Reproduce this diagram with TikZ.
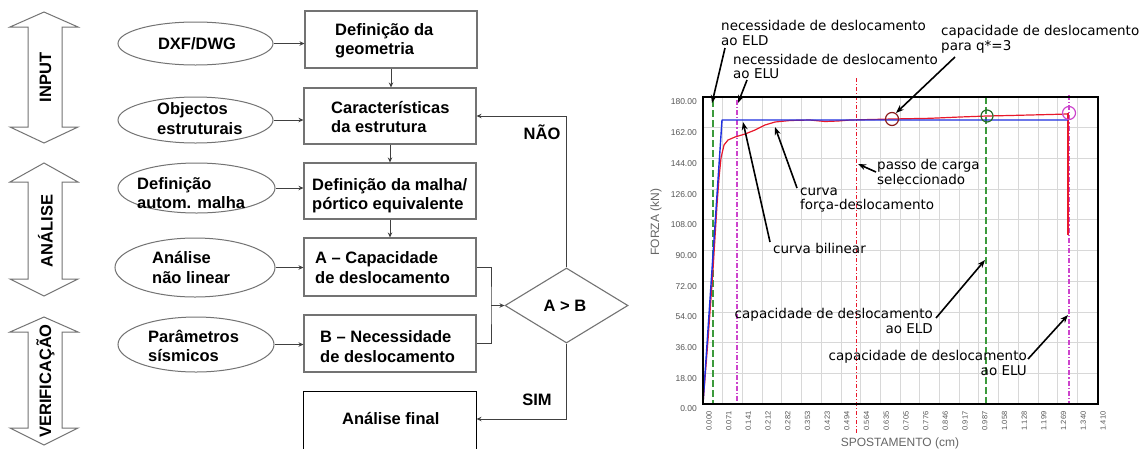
\documentclass[tikz,border=0pt]{standalone}
\usepackage{fontspec}
\newfontfamily\arialf[Ligatures=TeX]{Liberation Sans}
\newfontfamily\dejavuf{DejaVu Sans}
\usetikzlibrary{shapes.geometric,arrows.meta}
\definecolor{gridc}{HTML}{D8D8D8}
\definecolor{redc}{HTML}{E8192C}
\definecolor{bluec}{HTML}{1E2FE0}
\definecolor{greenc}{HTML}{3C9A3C}
\definecolor{magc}{HTML}{CC44CC}
\definecolor{darkred}{HTML}{8B1A1A}
\definecolor{ticc}{HTML}{555555}
\begin{document}
\begin{tikzpicture}[x=1pt,y=-1pt,
  box/.style={draw=black!55,line width=1.1pt,minimum width=172pt,inner sep=0pt},
  ell/.style={ellipse,draw=black!55,line width=1pt,inner sep=0pt},
  ftxt/.style={font=\arialf\bfseries\fontsize{16.5pt}{19.5pt}\selectfont,align=left,inner sep=0pt},
  flow/.style={-{Stealth[length=5pt,width=4.5pt]},line width=1pt,draw=black!75},
  flowline/.style={line width=1pt,draw=black!75},
  big/.style={draw=black!55,fill=white,line width=1pt},
  gridl/.style={draw=gridc,line width=0.8pt},
  ticklab/.style={font=\arialf\fontsize{8.5pt}{9pt}\selectfont,text=ticc,inner sep=0pt},
  axlab/.style={font=\arialf\fontsize{12pt}{13pt}\selectfont,text=black!60,inner sep=0pt},
  ann/.style={font=\dejavuf\fontsize{13.5pt}{14.5pt}\selectfont,inner sep=0pt},
  annarr/.style={-{Stealth[length=8pt,width=6pt]},line width=1.6pt,draw=black},
]
\useasboundingbox (0,0) rectangle (1148,448);
\fill[white] (0,0) rectangle (1148,448);

% ---------------- left double arrows ----------------
\draw[big] (44,12) -- (78,27) -- (62,27) -- (62,127) -- (78,127) -- (44,143) -- (10,127) -- (28,127) -- (28,27) -- (10,27) -- cycle;
\draw[big] (44,163) -- (78,182) -- (62,182) -- (62,279) -- (78,279) -- (44,296) -- (10,279) -- (28,279) -- (28,182) -- (10,182) -- cycle;
\draw[big] (44,317) -- (78,332) -- (62,332) -- (62,428) -- (78,428) -- (44,445) -- (10,428) -- (28,428) -- (28,332) -- (10,332) -- cycle;
\node[ftxt,rotate=90] (tinput) at (45.5,77.5) {INPUT};
\node[ftxt,rotate=90] (tanal) at (45.5,231) {ANÁLISE};
\node[ftxt,rotate=90] (tverif) at (45.5,381) {VERIFICAÇÃO};

% ---------------- ellipses ----------------
\node[ell,minimum width=155pt,minimum height=43pt] (e1) at (195.5,43.5) {};
\node[ell,minimum width=155pt,minimum height=46pt] (e2) at (195.5,120) {};
\node[ell,minimum width=157pt,minimum height=50pt] (e3) at (196.5,188) {};
\node[ell,minimum width=160pt,minimum height=59pt] (e4) at (195,267.5) {};
\node[ell,minimum width=156pt,minimum height=55pt] (e5) at (196,344.5) {};
\node[ftxt] (te1) at (197,43.5) {DXF/DWG};
\node[ftxt,anchor=west] (te2) at (157,118.5) {Objectos\\estruturais};
\node[ftxt,anchor=west] (te3) at (137,193) {Definição\\autom. malha};
\node[ftxt,anchor=west] (te4) at (152,267.5) {Análise\\não linear};
\node[ftxt,anchor=west] (te5) at (148,346) {Parâmetros\\sísmicos};

% ---------------- boxes ----------------
\node[box,minimum height=57pt] (b1) at (391,39.5) {};
\node[box,minimum height=56pt] (b2) at (390,116) {};
\node[box,minimum height=56pt] (b3) at (390,191) {};
\node[box,minimum height=58pt] (b4) at (390,267) {};
\node[box,minimum height=57pt] (b5) at (390,343.5) {};
\node[box,draw=none,minimum height=54pt] (b6) at (390,419) {};
\draw[line width=1.1pt,black] ([yshift=-4pt]b6.south west) -- (b6.north west) -- (b6.north east) -- ([yshift=-4pt]b6.south east);

\node[ftxt,anchor=west] (tb1) at (335,41) {Definição da\\geometria};
\node[ftxt,anchor=west] (tb2) at (331,117) {Características\\da estrutura};
\node[ftxt,anchor=west] (tb3) at (312,195.5) {Definição da malha/\\pórtico equivalente};
\node[ftxt,anchor=west] (tb4) at (315,267.5) {A – Capacidade\\de deslocamento};
\node[ftxt,anchor=west] (tb5) at (320,346.5) {B – Necessidade\\de deslocamento};
\node[ftxt,anchor=west] (tb6) at (342,419) {Análise final};

% diamond
\node[diamond,draw=black!55,line width=1.1pt,minimum width=123pt,minimum height=75pt,inner sep=0pt] (dia) at (566.5,305.5) {};
\node[ftxt] (tdia) at (565,306) {A > B};
\node[ftxt] (tnao) at (542,132) {NÃO};
\node[ftxt] (tsim) at (537,400) {SIM};

% flow connectors
\draw[flow] (e1.east) -- (e1.east -| b1.west);
\draw[flow] (e2.east) -- (e2.east -| b2.west);
\draw[flow] (e3.east) -- (e3.east -| b3.west);
\draw[flow] (e4.east) -- (e4.east -| b4.west);
\draw[flow] (e5.east) -- (e5.east -| b5.west);
\draw[flow] (b1.south) -- (b1.south |- b2.north);
\draw[flow] (b2.south) -- (b2.south |- b3.north);
\draw[flow] (b3.south) -- (b3.south |- b4.north);
\coordinate (jn) at (491,305.5);
\draw[flowline] (b4.east) -| (jn) |- (b5.east);
\draw[flow] (jn) -- (dia.west);
\draw[flow] (dia.north) |- (b2.east);
\draw[flow] (dia.south) |- (b6.east);

% ---------------- graph ----------------
\foreach \i in {0,...,20} \draw[gridl] ({703+19.7*\i},97) -- ({703+19.7*\i},404);
\foreach \j in {0,...,10} \draw[gridl] (703,{404-30.7*\j}) -- (1098,{404-30.7*\j});

\foreach \j/\lab in {0/0.00,1/18.00,2/36.00,3/54.00,4/72.00,5/90.00,6/108.00,7/126.00,8/144.00,9/162.00,10/180.00}
  \node[ticklab,anchor=east] (yl\j) at (697,{404-30.7*\j+5}) {\lab};
\foreach \i/\lab in {0/0.000,1/0.071,2/0.141,3/0.212,4/0.282,5/0.353,6/0.423,7/0.494,8/0.564,9/0.635,10/0.705,11/0.776,12/0.846,13/0.917,14/0.987,15/1.058,16/1.128,17/1.199,18/1.269,19/1.340,20/1.410}
  \node[ticklab,rotate=90,font=\arialf\fontsize{7.5pt}{8pt}\selectfont] (xl\i) at ({709+19.7*\i},421) {\lab};

\node[axlab,rotate=90] (ylab) at (656,222) {FORZA (kN)};
\node[axlab] (xlab) at (900,443) {SPOSTAMENTO (cm)};

% vertical marker lines
\draw[greenc,line width=1.1pt,dash pattern=on 7pt off 3pt] (713,100) -- (713,404);
\draw[greenc,line width=1.1pt,dash pattern=on 7pt off 3pt] (986,97) -- (986,404);
\draw[magc,line width=1.1pt,dash pattern=on 5pt off 2pt on 1.2pt off 2pt] (737,100) -- (737,404);
\draw[magc,line width=1.1pt,dash pattern=on 5pt off 2pt on 1.2pt off 2pt] (1069,95) -- (1069,404);
\draw[redc,line width=0.8pt,dash pattern=on 4pt off 2pt on 1pt off 2pt] (856,78) -- (856,433);

% force-displacement curve
\draw[redc,line width=1.2pt,line join=round] (703,404) -- (708,340) -- (713,270) -- (717,205) -- (719,178) -- (721,158) -- (724,145) -- (728,140) -- (735,137) -- (745,134) -- (755,130) -- (765,125) -- (775,122) -- (790,120.5) -- (810,120) -- (825,121.5) -- (838,121) -- (850,120) -- (892,119) -- (930,118.3) -- (960,117) -- (987,116) -- (1010,115.5) -- (1030,115) -- (1050,114.5) -- (1067,114);
\draw[redc,line width=1.8pt] (1068,113) -- (1068,235);
% bilinear
\draw[bluec,line width=1.4pt,line join=round] (703,404) -- (722,120) -- (1068,120);

% circles
\draw[darkred,line width=1.2pt] (892,119) circle (6.5);
\draw[greenc!70!black,line width=1.2pt] (987,116) circle (6);
\draw[magc,line width=1.2pt] (1069,113) circle (6.5);

% frame
\draw[black,line width=1.7pt] (703,97) rectangle (1098,404);

% annotations
\node[ann,anchor=north west,align=left] (a1) at (721,20.5) {necessidade de deslocamento\\ao ELD};
\node[ann,anchor=north west,align=left] (a2) at (733,54) {necessidade de deslocamento\\ao ELU};
\node[ann,anchor=north west,align=left] (a3) at (941,25.5) {capacidade de deslocamento\\para q*=3};
\node[ann,anchor=north west,align=left] (a4) at (877,159.5) {passo de carga\\seleccionado};
\node[ann,anchor=north west,align=left] (a5) at (800,187.5) {curva\\força-deslocamento};
\node[ann,anchor=north west,align=left] (a6) at (773,243.5) {curva bilinear};
\node[ann,anchor=north east,align=right] (a7) at (933,308.5) {capacidade de deslocamento\\ao ELD};
\node[ann,anchor=north east,align=right] (a8) at (1027,350.5) {capacidade de deslocamento\\ao ELU};

\coordinate (s1) at (725,48);   \coordinate (t1) at (712,103);
\coordinate (s2) at (747,80);   \coordinate (t2) at (738,103);
\coordinate (s3) at (955,57);   \coordinate (t3) at (896,113);
\coordinate (s4) at (876,172);  \coordinate (t4) at (858,164);
\coordinate (s5) at (797,188);  \coordinate (t5) at (775,127);
\coordinate (s6) at (770,242);  \coordinate (t6) at (743,122);
\coordinate (s7) at (936,318);  \coordinate (t7) at (985,260);
\coordinate (s8) at (1028,359); \coordinate (t8) at (1068,315);
\foreach \k in {1,...,8} \draw[annarr] (s\k) -- (t\k);
\end{tikzpicture}
\end{document}
